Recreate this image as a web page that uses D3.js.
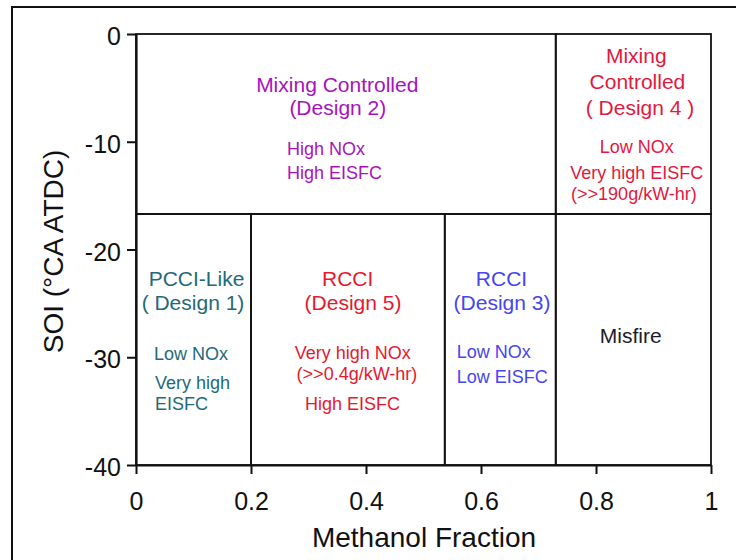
<!DOCTYPE html>
<html>
<head>
<meta charset="utf-8">
<script src="https://cdn.jsdelivr.net/npm/d3@7"></script>
<style>
  body { margin: 0; background: #fff; }
  text { font-family: "Liberation Sans", Arial, sans-serif; }
</style>
</head>
<body>
<div id="chart"></div>
<script>
// regime boundaries (methanol fraction / SOI)
var xTicks = [0, 0.2, 0.4, 0.6, 0.8, 1];
var yTicks = [0, -10, -20, -30, -40];
var regionNames = ["Design 2", "Design 4", "Design 1", "Design 5", "Design 3", "Misfire"];
var regionX0 = [0, 0.73, 0, 0.2, 0.537, 0.73];
var regionX1 = [0.73, 1, 0.2, 0.537, 0.73, 1];
var regionY0 = [0, 0, -16.7, -16.7, -16.7, -16.7];
var regionY1 = [-16.7, -16.7, -40, -40, -40, -40];

// annotation lines: text, anchor x, baseline y (data units), region index, kind
var noteText = [
  "Mixing Controlled", "(Design 2)", "High NOx", "High EISFC",
  "Mixing", "Controlled", "( Design 4 )", "Low NOx", "Very high EISFC", "(>>190g/kW-hr)",
  "PCCI-Like", "( Design 1)", "Low NOx", "Very high", "EISFC",
  "RCCI", "(Design 5)", "Very high NOx", "(>>0.4g/kW-hr)", "High EISFC",
  "RCCI", "(Design 3)", "Low NOx", "Low EISFC",
  "Misfire"
];
var noteX = [
  0.350, 0.351, 0.2626, 0.2626,
  0.870, 0.872, 0.8765, 0.8708, 0.8708, 0.866,
  0.1052, 0.0991, 0.0313, 0.033, 0.033,
  0.3682, 0.3774, 0.3769, 0.3843, 0.3765,
  0.6357, 0.6365, 0.5577, 0.5577,
  0.8605
];
var noteY = [
  -5.35, -7.52, -11.23, -13.46,
  -2.72, -5.13, -7.52, -11.07, -13.49, -15.41,
  -23.39, -25.62, -30.26, -32.95, -34.90,
  -23.39, -25.62, -30.16, -32.11, -34.90,
  -23.39, -25.62, -30.07, -32.36,
  -28.71
];
var noteRegion = [0,0,0,0, 1,1,1,1,1,1, 2,2,2,2,2, 3,3,3,3,3, 4,4,4,4, 5];
var noteKind = [
  "t","t","l","l",
  "t","t","t","s","s","s",
  "t","t","l","l","l",
  "t","t","s","s","s",
  "t","t","l","l",
  "t"
];

var regionColor = ["#a812bd", "#e3183e", "#1f6a78", "#e8182e", "#4545f2", "#1c1c2a"];

var w = 736, h = 560;
var svg = d3.select("#chart").append("svg")
  .attr("width", w)
  .attr("height", h);

// outer frame
svg.append("rect")
  .attr("x", 12).attr("y", 7)
  .attr("width", 780).attr("height", 600)
  .attr("fill", "none")
  .attr("stroke", "#111")
  .attr("stroke-width", 2);

var x = d3.scaleLinear().domain([0, 1]).range([136, 711]);
var y = d3.scaleLinear().domain([-40, 0]).range([465, 34]);

// regime boxes
svg.selectAll("rect.region")
  .data(regionNames)
  .enter()
  .append("rect")
  .attr("class", "region")
  .attr("x", function(d, i) { return x(regionX0[i]); })
  .attr("y", function(d, i) { return y(regionY0[i]); })
  .attr("width", function(d, i) { return x(regionX1[i]) - x(regionX0[i]); })
  .attr("height", function(d, i) { return y(regionY1[i]) - y(regionY0[i]); })
  .attr("fill", "none")
  .attr("stroke", "#111")
  .attr("stroke-width", 1.8);

// axes
var gx = svg.append("g")
  .attr("transform", "translate(0," + y(-40) + ")")
  .call(d3.axisBottom(x).tickValues(xTicks).tickSize(9).tickSizeOuter(0).tickPadding(18)
    .tickFormat(function(d) { return String(d); }));
var gy = svg.append("g")
  .attr("transform", "translate(" + x(0) + ",0)")
  .call(d3.axisLeft(y).tickValues(yTicks).tickSize(9).tickSizeOuter(0).tickPadding(6)
    .tickFormat(function(d) { return String(d); }));

[gx, gy].forEach(function(g) {
  g.select(".domain").attr("stroke", "#111").attr("stroke-width", 2.2);
  g.selectAll(".tick line").attr("stroke", "#111").attr("stroke-width", 2);
  g.selectAll(".tick text")
    .attr("fill", "#111")
    .style("font-family", "'Liberation Sans', Arial, sans-serif")
    .style("font-size", "25px");
});
gy.selectAll(".tick text").attr("dy", "0.42em");

// axis titles
svg.append("text")
  .attr("x", 424).attr("y", 547)
  .attr("text-anchor", "middle")
  .attr("fill", "#111")
  .style("font-size", "28px")
  .text("Methanol Fraction");
svg.append("text")
  .attr("transform", "translate(62.5,251.5) rotate(-90)")
  .attr("text-anchor", "middle")
  .attr("fill", "#111")
  .style("font-size", "28px")
  .text("SOI (°CA ATDC)");

// annotations
svg.selectAll("text.note")
  .data(noteText)
  .enter()
  .append("text")
  .attr("class", "note")
  .attr("x", function(d, i) { return x(noteX[i]); })
  .attr("y", function(d, i) { return y(noteY[i]); })
  .attr("text-anchor", function(d, i) { return noteKind[i] == "l" ? "start" : "middle"; })
  .attr("fill", function(d, i) { return regionColor[noteRegion[i]]; })
  .style("font-size", function(d, i) { return noteKind[i] == "t" ? "21px" : "18px"; })
  .text(function(d) { return d; });
</script>
</body>
</html>
